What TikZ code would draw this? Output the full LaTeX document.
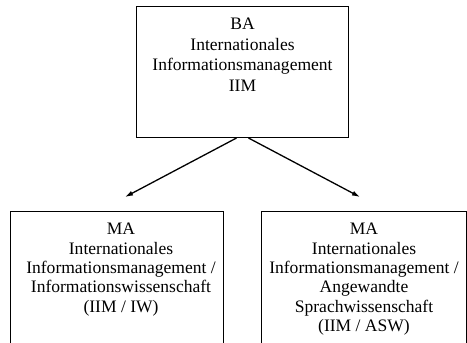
\documentclass[tikz,border=0pt]{standalone}
\usepackage{fontspec}
\setmainfont{Liberation Serif}
\usetikzlibrary{positioning, arrows.meta}

\begin{document}
\begin{tikzpicture}[x=1bp, y=-1bp,
    box/.style={draw, line width=1bp, inner sep=0pt, anchor=north west},
    txt/.style={align=center, inner sep=0pt, font=\fontsize{17.6}{20.5}\selectfont},
    arr/.style={-{Latex[length=8bp, width=5bp]}, line width=1.3bp}]
    \useasboundingbox (0,0) rectangle (467,342);
    \clip (0,0) rectangle (467,342);

    % Top box
    \node[box, minimum width=212bp, minimum height=131bp] (ba) at (136,6) {};
    \node[txt, below=12bp of ba.north] (batext)
        {BA\\Internationales\\Informationsmanagement\\IIM};

    % Bottom boxes (cut off at the lower edge)
    \node[box, minimum width=213bp, minimum height=160bp] (iw) at (10,211) {};
    \node[txt, font=\fontsize{17.6}{19.4}\selectfont, below=12bp of iw.north, xshift=4bp] (iwtext)
        {MA\\Internationales\\Informationsmanagement /\\Informationswissenschaft\\(IIM / IW)};

    \node[box, minimum width=205bp, minimum height=160bp] (asw) at (261,211) {};
    \node[txt, font=\fontsize{17.6}{19.4}\selectfont, below=12bp of asw.north] (aswtext)
        {MA\\Internationales\\Informationsmanagement /\\Angewandte\\Sprachwissenschaft\\(IIM / ASW)};

    % Arrows
    \coordinate (iwtip) at (125,197);
    \coordinate (aswtip) at (360,197);
    \draw[arr] ([xshift=-6bp]ba.south) -- (iwtip);
    \draw[arr] ([xshift=6bp]ba.south) -- (aswtip);
\end{tikzpicture}
\end{document}
